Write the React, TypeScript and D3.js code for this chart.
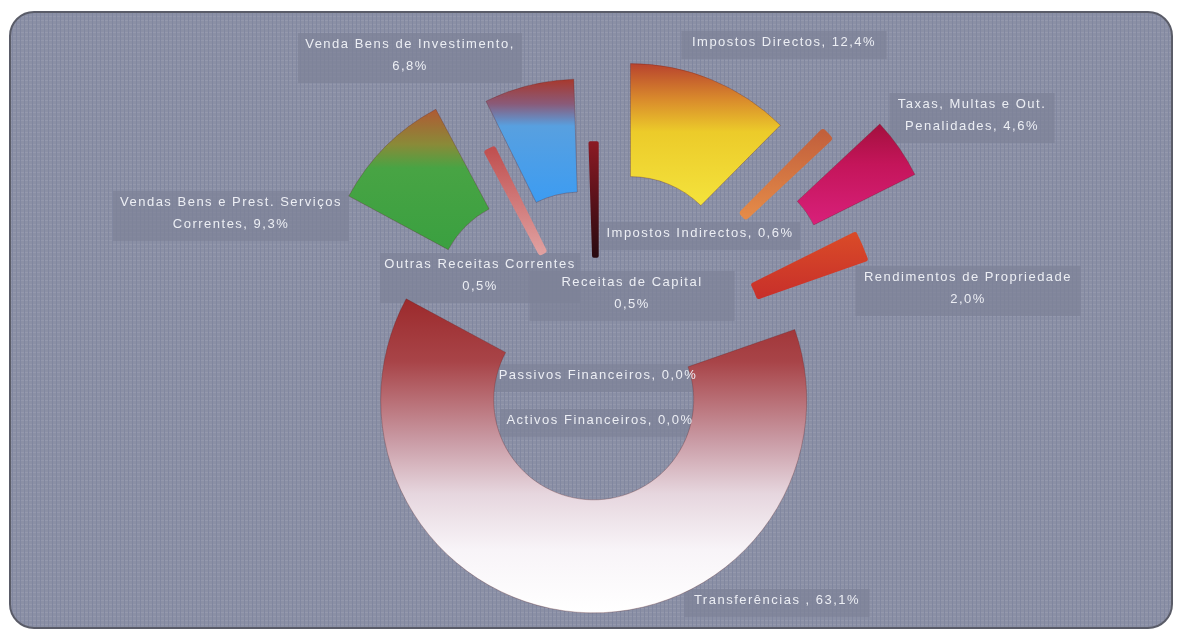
import React from "react";
import * as d3 from "d3";

// ---- data ----
const categories = [
  "Impostos Directos",
  "Impostos Indirectos",
  "Taxas, Multas e Out. Penalidades",
  "Rendimentos de Propriedade",
  "Transferências",
  "Vendas Bens e Prest. Serviços Correntes",
  "Outras Receitas Correntes",
  "Venda Bens de Investimento",
  "Receitas de Capital",
  "Passivos Financeiros",
  "Activos Financeiros",
];
const shares = [12.4, 0.6, 4.6, 2.0, 63.1, 9.3, 0.5, 6.8, 0.5, 0.0, 0.0];
const labelLines = [
  ["Impostos Directos, 12,4%"],
  ["Impostos Indirectos, 0,6%"],
  ["Taxas, Multas e Out.", "Penalidades, 4,6%"],
  ["Rendimentos de Propriedade", "2,0%"],
  ["Transferências , 63,1%"],
  ["Vendas Bens e Prest. Serviços", "Correntes, 9,3%"],
  ["Outras Receitas Correntes", "0,5%"],
  ["Venda Bens de Investimento,", "6,8%"],
  ["Receitas de Capital", "0,5%"],
  ["Passivos Financeiros, 0,0%"],
  ["Activos Financeiros, 0,0%"],
];

// ---- layout / style ----
const W = 1181;
const H = 630;
const CX = 597;
const CY = 358;
const R_IN = 100;
const R_OUT = 213;
const explode = [88, 106, 155, 73, 42, 86, 20, 68, 2, 0, 0];
const edgeWidth = [0.8, 7, 0.8, 5, 0.8, 0.8, 6, 0.8, 3.5, 0, 0];
// label box centre x, first line y, box width
const labelPos: [number, number, number][] = [
  [784, 46, 205],
  [700, 237, 200],
  [972, 108, 165],
  [968, 281, 225],
  [777, 604, 185],
  [231, 206, 236],
  [480, 268, 200],
  [410, 48, 224],
  [632, 286, 205],
  [598, 379, 210],
  [600, 424, 200],
];
const gradients: [number, string][][] = [
  [[0, "#b8432e"], [0.25, "#d98a2c"], [0.48, "#eccb2a"], [1, "#f4e33c"]],
  [[0, "#c2603c"], [1, "#e48a48"]],
  [[0, "#a3103e"], [0.4, "#c4155a"], [1, "#d8207a"]],
  [[0, "#d94a28"], [1, "#c8302a"]],
  [[0, "#9c2a2c"], [0.2, "#a84448"], [0.45, "#c99aa4"], [0.62, "#e6d6de"], [0.8, "#f8f4f8"], [1, "#ffffff"]],
  [[0, "#b05a34"], [0.25, "#8a8a38"], [0.42, "#48a444"], [1, "#3aa040"]],
  [[0, "#c05050"], [1, "#e0a0a0"]],
  [[0, "#a8382c"], [0.2, "#8a5a78"], [0.38, "#58a0e0"], [1, "#3c9cf2"]],
  [[0, "#8a1a24"], [1, "#2a0a10"]],
  [[0, "#888"], [1, "#888"]],
  [[0, "#888"], [1, "#888"]],
];

export default function App() {
  const pie = d3
    .pie<number>()
    .sort(null)
    .value((d) => d)
    .startAngle(0)
    .endAngle(2 * Math.PI);
  const arcs = pie(shares);
  const arc = d3.arc<d3.PieArcDatum<number>>().innerRadius(R_IN).outerRadius(R_OUT);

  return (
    <svg
      width={W}
      height={H}
      style={{ position: "absolute", left: 0, top: 0, display: "block" }}
      fontFamily="'Liberation Sans', Arial, sans-serif"
    >
      <defs>
        <pattern id="grid" width="4" height="4" patternUnits="userSpaceOnUse">
          <rect width="4" height="4" fill="#8b90a5" />
          <rect width="4" height="1" fill="#9498ad" />
          <rect width="1" height="4" fill="#8187a0" />
        </pattern>
        {gradients.map((stops, i) => (
          <linearGradient key={i} id={`g${i}`} x1="0" y1="0" x2="0" y2="1">
            {stops.map(([o, c], j) => (
              <stop key={j} offset={o} stopColor={c} />
            ))}
          </linearGradient>
        ))}
        <filter id="soft" x="-5%" y="-5%" width="110%" height="110%">
          <feGaussianBlur stdDeviation="0.6" />
        </filter>
      </defs>
      <rect x={0} y={0} width={W} height={H} fill="#ffffff" />
      <rect
        x={10}
        y={12}
        width={1162}
        height={616}
        rx={24}
        ry={24}
        fill="url(#grid)"
        stroke="#5a5c68"
        strokeWidth={2}
      />
      {labelLines.map((lines, i) => {
        const [x, y, w] = labelPos[i];
        const h = lines.length * 22 + 6;
        return (
          <rect
            key={"b" + i}
            x={x - w / 2}
            y={y - 15}
            width={w}
            height={h}
            fill="#7e8297"
            opacity={0.7}
          />
        );
      })}
      <g transform={`translate(${CX},${CY})`}>
        {arcs.map((a, i) => {
          if (a.value <= 0) return null;
          const mid = (a.startAngle + a.endAngle) / 2;
          const dx = Math.sin(mid) * explode[i];
          const dy = -Math.cos(mid) * explode[i];
          const thick = edgeWidth[i] > 1;
          return (
            <path
              key={i}
              d={arc(a) || ""}
              transform={`translate(${dx},${dy})`}
              fill={`url(#g${i})`}
              stroke={thick ? `url(#g${i})` : "rgba(90,30,30,0.35)"}
              strokeWidth={edgeWidth[i]}
              strokeLinejoin="round"
            />
          );
        })}
      </g>
      {labelLines.map((lines, i) => {
        const [x, y] = labelPos[i];
        return (
          <text
            key={"t" + i}
            x={x}
            y={y}
            textAnchor="middle"
            fontSize={13}
            letterSpacing={1.5}
            fill="#eceef4"
            filter="url(#soft)"
          >
            {lines.map((l, j) => (
              <tspan key={j} x={x} dy={j === 0 ? 0 : 22}>
                {l}
              </tspan>
            ))}
          </text>
        );
      })}
    </svg>
  );
}
